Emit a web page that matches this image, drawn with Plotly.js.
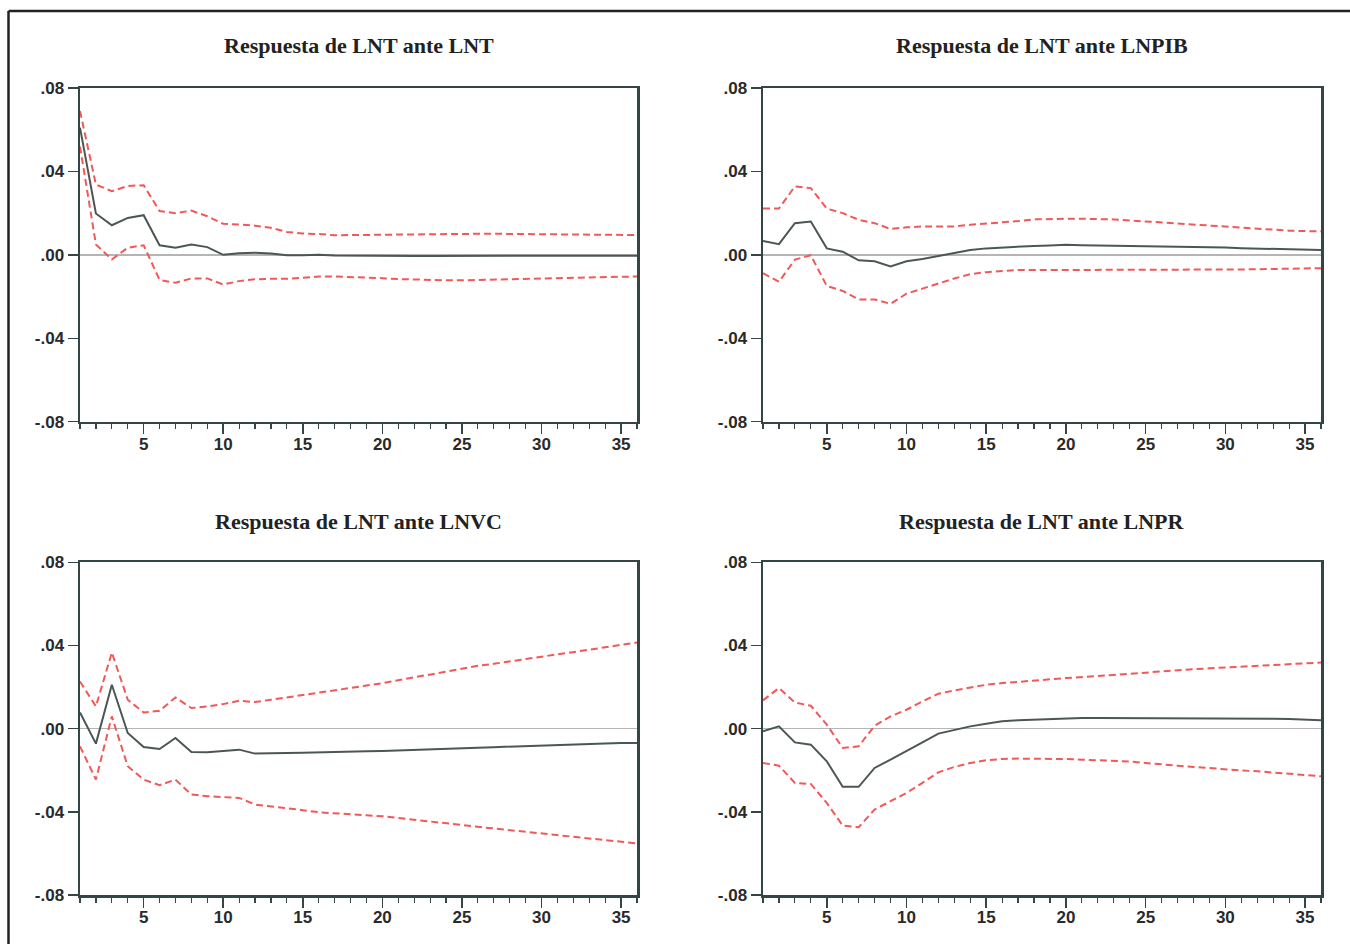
<!DOCTYPE html>
<html>
<head>
<meta charset="utf-8">
<script src="https://cdn.plot.ly/plotly-3.0.1.min.js"></script>
<style>
  html, body { margin: 0; padding: 0; background: #ffffff; }
  #chart { width: 1350px; height: 944px; }
</style>
</head>
<body>
<div id="chart"></div>
<script>
// Horizon (periods)
const periods = Array.from({length: 36}, (_, i) => i + 1);

// Panel titles
const panelTitles = [
  "Respuesta de LNT ante LNT",
  "Respuesta de LNT ante LNPIB",
  "Respuesta de LNT ante LNVC",
  "Respuesta de LNT ante LNPR"
];

// Y tick labels
const yTickVals = [-0.08, -0.04, 0, 0.04, 0.08];
const yTickText = ["-.08", "-.04", ".00", ".04", ".08"];

// LNT ante LNT
const lntLntIrf = [0.061, 0.0198, 0.0142, 0.0177, 0.019, 0.0046, 0.0034, 0.005, 0.0037, 0.0000, 0.0008, 0.001, 0.0006, -0.0002, -0.0002, 0.0000, -0.0003, -0.0004, -0.0004, -0.0004, -0.0005, -0.0005, -0.0005, -0.0005, -0.0005, -0.0005, -0.0005, -0.0005, -0.0005, -0.0005, -0.0005, -0.0005, -0.0005, -0.0005, -0.0004, -0.0004];
const lntLntHi  = [0.069, 0.0337, 0.0305, 0.033, 0.0334, 0.021, 0.020, 0.0212, 0.0185, 0.0149, 0.0145, 0.014, 0.013, 0.011, 0.0102, 0.010, 0.0094, 0.0095, 0.0095, 0.0096, 0.0098, 0.0100, 0.0101, 0.0101, 0.0101, 0.0101, 0.0101, 0.0100, 0.0100, 0.0098, 0.0097, 0.0096, 0.0096, 0.0095, 0.0095, 0.0095];
const lntLntLo  = [0.052, 0.005, -0.0022, 0.0034, 0.0046, -0.012, -0.0134, -0.0113, -0.0113, -0.0142, -0.0126, -0.0117, -0.0115, -0.0115, -0.011, -0.0104, -0.0104, -0.0106, -0.0108, -0.0112, -0.0116, -0.0119, -0.012, -0.0122, -0.0122, -0.012, -0.0118, -0.0116, -0.0114, -0.0112, -0.011, -0.0108, -0.0107, -0.0106, -0.0105, -0.0104];

// LNT ante LNPIB
const lntPibIrf = [0.0067, 0.0051, 0.0152, 0.016, 0.0031, 0.0015, -0.0026, -0.0031, -0.0056, -0.0031, -0.002, -0.0005, 0.0008, 0.0023, 0.0031, 0.0036, 0.004, 0.0043, 0.0045, 0.0048, 0.0046, 0.0045, 0.0044, 0.0043, 0.0042, 0.004, 0.0038, 0.0036, 0.0036, 0.0035, 0.0032, 0.003, 0.0027, 0.0025, 0.0024, 0.0023];
const lntPibHi  = [0.0222, 0.0222, 0.0328, 0.032, 0.0222, 0.020, 0.0168, 0.0152, 0.0124, 0.0132, 0.0136, 0.0136, 0.0136, 0.0144, 0.0149, 0.0155, 0.0162, 0.0170, 0.0173, 0.0173, 0.0173, 0.0173, 0.0170, 0.0165, 0.0160, 0.0155, 0.0150, 0.0145, 0.0140, 0.0135, 0.0131, 0.0127, 0.0121, 0.0116, 0.0114, 0.0113];
const lntPibLo  = [-0.0088, -0.0129, -0.0023, -0.0002, -0.0149, -0.0173, -0.0214, -0.0214, -0.0235, -0.0186, -0.0162, -0.0136, -0.0113, -0.0093, -0.0083, -0.0077, -0.0073, -0.0073, -0.0073, -0.0073, -0.0073, -0.0073, -0.0073, -0.0073, -0.0073, -0.0073, -0.0073, -0.0072, -0.0072, -0.0071, -0.0070, -0.0069, -0.0067, -0.0065, -0.0064, -0.0064];

// LNT ante LNVC
const lntVcIrf = [0.0078, -0.0072, 0.0211, -0.0021, -0.0088, -0.0098, -0.0045, -0.0112, -0.0114, -0.0107, -0.0101, -0.012, -0.0117, -0.0117, -0.0116, -0.0115, -0.0114, -0.0111, -0.0109, -0.0107, -0.0105, -0.0103, -0.0100, -0.0097, -0.0094, -0.0092, -0.0089, -0.0086, -0.0083, -0.0080, -0.0078, -0.0076, -0.0073, -0.0071, -0.0069, -0.0069];
const lntVcHi  = [0.0227, 0.0107, 0.0366, 0.0139, 0.0078, 0.0086, 0.015, 0.0099, 0.0107, 0.0118, 0.0134, 0.0128, 0.0139, 0.015, 0.0162, 0.0171, 0.0184, 0.0195, 0.0207, 0.0219, 0.0233, 0.0247, 0.0262, 0.0276, 0.0291, 0.0302, 0.0312, 0.0323, 0.0333, 0.0344, 0.0356, 0.0368, 0.0379, 0.0391, 0.0403, 0.0414];
const lntVcLo  = [-0.0085, -0.0245, 0.0059, -0.0181, -0.0245, -0.0272, -0.0245, -0.0317, -0.0325, -0.0328, -0.0333, -0.0365, -0.0373, -0.0381, -0.0392, -0.0402, -0.0408, -0.0413, -0.0417, -0.0421, -0.0430, -0.0438, -0.0447, -0.0455, -0.0464, -0.0472, -0.0480, -0.0488, -0.0496, -0.0504, -0.0512, -0.0520, -0.0528, -0.0536, -0.0544, -0.0552];

// LNT ante LNPR
const lntPrIrf = [-0.0013, 0.0011, -0.0066, -0.0077, -0.0157, -0.028, -0.028, -0.0189, -0.0149, -0.0109, -0.0066, -0.0024, -0.0005, 0.0011, 0.0024, 0.0035, 0.004, 0.0043, 0.0047, 0.005, 0.0051, 0.0051, 0.0051, 0.0051, 0.0051, 0.0051, 0.0051, 0.0051, 0.0051, 0.0051, 0.005, 0.005, 0.0048, 0.0046, 0.0043, 0.004];
const lntPrHi  = [0.0136, 0.0195, 0.0126, 0.011, 0.0019, -0.0093, -0.0085, 0.0014, 0.0059, 0.0091, 0.0131, 0.0168, 0.0184, 0.0198, 0.0211, 0.0219, 0.0226, 0.023, 0.0237, 0.0243, 0.0247, 0.0251, 0.0258, 0.0264, 0.027, 0.0275, 0.0281, 0.0286, 0.029, 0.0294, 0.0298, 0.0302, 0.0306, 0.031, 0.0314, 0.0318];
const lntPrLo  = [-0.0165, -0.0178, -0.0261, -0.0266, -0.0357, -0.0466, -0.0474, -0.0389, -0.0349, -0.0309, -0.0261, -0.021, -0.0184, -0.0165, -0.0152, -0.0146, -0.0144, -0.0144, -0.0145, -0.0146, -0.0149, -0.0152, -0.0155, -0.0158, -0.0165, -0.0173, -0.0178, -0.0184, -0.019, -0.0197, -0.0201, -0.0205, -0.0211, -0.0216, -0.0222, -0.0229];

const panels = [
  {irf: lntLntIrf, hi: lntLntHi, lo: lntLntLo},
  {irf: lntPibIrf, hi: lntPibHi, lo: lntPibLo},
  {irf: lntVcIrf,  hi: lntVcHi,  lo: lntVcLo},
  {irf: lntPrIrf,  hi: lntPrHi,  lo: lntPrLo}
];

const W = 1350, H = 944;
// pixel boxes of the plot areas [x0, x1, yTop, yBottom]
const boxes = [
  [80, 637, 88, 421.7],
  [763, 1321, 88, 421.7],
  [80, 637, 562.3, 895],
  [763, 1321, 562.3, 895]
];
const titleY = [45, 45, 521, 521];

const axisColor = '#334545';
const redColor = '#f25858';
const lineColor = '#4d5656';
const tickFont = {family: 'Liberation Sans, Arial, sans-serif', size: 17, color: '#2a2a2a', weight: 'bold'};

const traces = [];
const layout = {
  width: W, height: H,
  margin: {l: 0, r: 0, t: 0, b: 0},
  paper_bgcolor: '#ffffff',
  plot_bgcolor: '#ffffff',
  showlegend: false,
  font: {family: 'Liberation Sans, Arial, sans-serif', color: '#333333', size: 17},
  annotations: [],
  shapes: [
    {type: 'line', xref: 'paper', yref: 'paper', x0: 8.5/W, x1: 1.01, y0: 1 - 11/H, y1: 1 - 11/H,
     line: {color: '#222222', width: 2.5}},
    {type: 'line', xref: 'paper', yref: 'paper', x0: 8.5/W, x1: 8.5/W, y0: 1 - 11/H, y1: -0.01,
     line: {color: '#222222', width: 2.5}}
  ]
};

panels.forEach((p, i) => {
  const n = i + 1;
  const xa = n === 1 ? 'x' : 'x' + n;
  const ya = n === 1 ? 'y' : 'y' + n;
  const b = boxes[i];
  traces.push({x: periods, y: p.hi, xaxis: xa, yaxis: ya, type: 'scatter', mode: 'lines',
    line: {color: redColor, width: 2, dash: '7px,4px'}, hoverinfo: 'skip'});
  traces.push({x: periods, y: p.lo, xaxis: xa, yaxis: ya, type: 'scatter', mode: 'lines',
    line: {color: redColor, width: 2, dash: '7px,4px'}, hoverinfo: 'skip'});
  traces.push({x: periods, y: p.irf, xaxis: xa, yaxis: ya, type: 'scatter', mode: 'lines',
    line: {color: lineColor, width: 2}});

  layout['xaxis' + (n === 1 ? '' : n)] = {
    domain: [b[0] / W, b[1] / W],
    anchor: ya,
    range: [1, 36],
    tickmode: 'linear', tick0: 0, dtick: 5,
    ticks: 'outside', ticklen: 10, tickwidth: 1.5, tickcolor: axisColor,
    ticklabelstandoff: -5,
    minor: {tickmode: 'linear', tick0: 0, dtick: 1, ticks: 'outside', ticklen: 5, tickwidth: 1.2, tickcolor: axisColor, showgrid: false},
    showline: true, mirror: true, linecolor: axisColor, linewidth: 2.5,
    showgrid: false, zeroline: false, automargin: false, fixedrange: true,
    tickfont: tickFont
  };
  layout['yaxis' + (n === 1 ? '' : n)] = {
    domain: [1 - b[3] / H, 1 - b[2] / H],
    anchor: xa,
    range: [-0.08, 0.08],
    tickmode: 'array', tickvals: yTickVals, ticktext: yTickText,
    ticks: 'outside', ticklen: 10, tickwidth: 1.5, tickcolor: axisColor,
    showline: true, mirror: true, linecolor: axisColor, linewidth: 2.5,
    showgrid: false, zeroline: true, zerolinecolor: '#b5b5b5', zerolinewidth: 1.5,
    automargin: false, fixedrange: true,
    tickfont: tickFont
  };
  layout.annotations.push({
    text: '<b>' + panelTitles[i] + '</b>',
    xref: 'paper', yref: 'paper',
    x: (b[0] + b[1]) / 2 / W, y: 1 - titleY[i] / H,
    xanchor: 'center', yanchor: 'middle', showarrow: false,
    font: {family: 'Liberation Serif, Times New Roman, serif', size: 22, color: '#222222'}
  });
});

Plotly.newPlot('chart', traces, layout, {displayModeBar: false, staticPlot: true});
</script>
</body>
</html>
